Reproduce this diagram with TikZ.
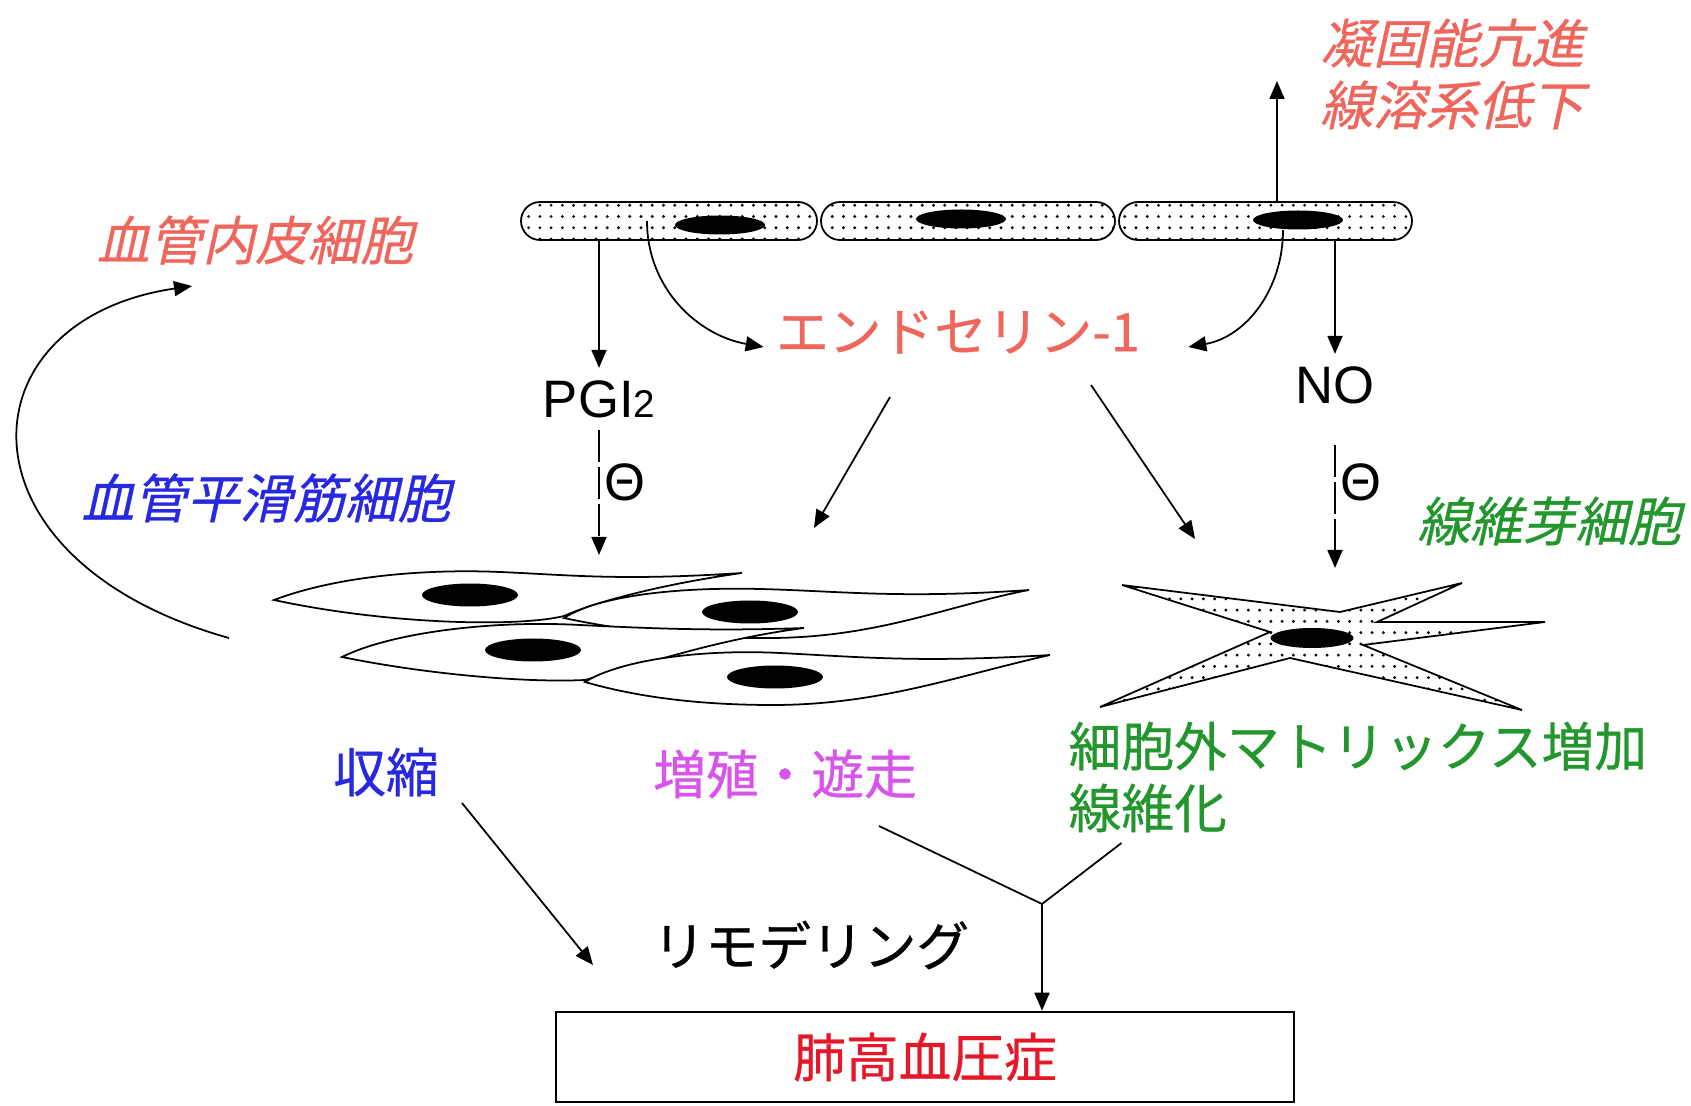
\documentclass[tikz,border=0pt]{standalone}
\usepackage{fontspec}
\setmainfont{Liberation Sans}
\newfontfamily\jp[FakeBold=0.6]{Noto Sans CJK JP}
\newfontfamily\jpsl[FakeSlant=0.22, FakeBold=0.6]{Noto Sans CJK JP}
\usetikzlibrary{arrows.meta, shapes.geometric, patterns.meta}
\definecolor{ecRed}{RGB}{238, 102, 92}
\definecolor{smcBlue}{RGB}{40, 40, 225}
\definecolor{fibGreen}{RGB}{35, 150, 45}
\definecolor{prolViolet}{RGB}{215, 85, 235}
\definecolor{phRed}{RGB}{228, 24, 40}

\begin{document}
\begin{tikzpicture}[every node/.style={font=\jp\fontsize{15}{17.6}\selectfont},
  arr/.style={-{Triangle[length=1.8mm, width=1.5mm]}, line width=0.5pt},
  inhib/.style={arr, dash pattern=on 9pt off 1.5pt},
  dotted cell/.style={draw, line width=0.5pt, pattern={Dots[distance=3.2pt, radius=0.45pt]}},
  endo/.style={dotted cell, rounded corners=1.9mm, minimum height=3.8mm, inner sep=0},
  nuc/.style={ellipse, fill=black, inner sep=0, minimum width=9mm, minimum height=1.9mm},
  smc/.style={draw, fill=white, line width=0.5pt},
  latin/.style={font=\fontsize{15}{17.6}\selectfont},
  sl/.style={font=\jpsl\fontsize{15}{17.6}\selectfont}]
  \useasboundingbox (0,0) rectangle (16.91,11.05);

  % endothelium
  \node[endo, minimum width=29.6mm] (ec1) at (6.69,8.84) {};
  \node[endo, minimum width=29.4mm] (ec2) at (9.68,8.84) {};
  \node[endo, minimum width=29.3mm] (ec3) at (12.655,8.84) {};
  \node[nuc] (n1) at (7.20,8.80) {};
  \node[nuc] (n2) at (9.61,8.86) {};
  \node[nuc] (n3) at (12.98,8.85) {};

  % smooth muscle cells
  \draw[smc] (2.74,5.05) .. controls (3.4,5.30) and (4.3,5.36) .. (5.0,5.33) .. controls (5.7,5.30) and (6.2,5.24) .. (7.42,5.32)
    .. controls (6.7,5.22) and (6.0,5.05) .. (5.64,4.89) .. controls (5.2,4.78) and (3.9,4.80) .. (2.74,5.05) -- cycle;
  \node[nuc, minimum width=9.6mm, minimum height=2.3mm] (smA) at (4.70,5.10) {};
  \draw[smc] (5.64,4.87) .. controls (6.0,5.1) and (6.8,5.18) .. (7.6,5.16) .. controls (8.4,5.14) and (9.0,5.06) .. (10.29,5.15)
    .. controls (9.5,5.0) and (8.8,4.68) .. (7.73,4.67) .. controls (6.9,4.66) and (6.2,4.75) .. (5.64,4.87) -- cycle;
  \node[nuc, minimum width=9.6mm, minimum height=2.3mm] (smB) at (7.50,4.93) {};
  \draw[smc] (3.42,4.48) .. controls (3.9,4.72) and (4.9,4.85) .. (5.8,4.80) .. controls (6.6,4.76) and (7.2,4.74) .. (8.04,4.77)
    .. controls (7.2,4.66) and (6.6,4.45) .. (5.85,4.25) .. controls (5.2,4.22) and (4.2,4.32) .. (3.42,4.48) -- cycle;
  \node[nuc, minimum width=9.6mm, minimum height=2.3mm] (smC) at (5.33,4.55) {};
  \draw[smc] (5.85,4.23) .. controls (6.2,4.45) and (7.0,4.56) .. (7.8,4.52) .. controls (8.6,4.48) and (9.2,4.42) .. (10.50,4.50)
    .. controls (9.6,4.30) and (8.8,4.00) .. (7.73,4.00) .. controls (6.9,4.00) and (6.3,4.10) .. (5.85,4.23) -- cycle;
  \node[nuc, minimum width=9.6mm, minimum height=2.3mm] (smD) at (7.75,4.28) {};

  % fibroblast
  \draw[dotted cell] (11.22,5.20) -- (13.40,4.93) -- (14.62,5.22) -- (13.77,4.83) -- (15.45,4.83) -- (13.63,4.60)
    -- (15.22,3.95) -- (12.90,4.47) -- (11.00,3.98) -- (12.70,4.73) -- cycle;
  \node[nuc, minimum width=8.3mm, minimum height=2mm] (fn) at (13.12,4.67) {};

  % labels
  \node[sl, text=ecRed, align=center] (coag) at (14.52,10.31) {凝固能亢進\\線溶系低下};
  \node[sl, text=ecRed] (eclbl) at (2.55,8.65) {血管内皮細胞};
  \node[sl, text=smcBlue] (smclbl) at (2.66,6.07) {血管平滑筋細胞};
  \node[sl, text=fibGreen] (fiblbl) at (15.49,5.84) {線維芽細胞};
  \node[text=ecRed] (et1) at (9.58,7.73) {エンドセリン-1};
  \node[latin] (pgi) at (5.99,7.06) {PGI{\fontsize{11}{11}\selectfont 2}};
  \node[latin] (no) at (13.35,7.20) {NO};
  \node[latin] (minusA) at (6.25,6.23) {Θ};
  \node[latin] (minusB) at (13.61,6.23) {Θ};
  \node[text=smcBlue] (shrink) at (3.86,3.33) {収縮};
  \node[text=prolViolet] (prolif) at (7.85,3.31) {増殖・遊走};
  \node[text=fibGreen, align=left, anchor=west, inner sep=0] (ecm) at (10.68,3.28) {細胞外マトリックス増加\\線維化};
  \node (remod) at (8.11,1.60) {リモデリング};
  \node[draw, line width=0.6pt, minimum width=73.75mm, minimum height=9.05mm, text=phRed] (ph) at (9.25,0.48) {肺高血圧症};

  % free ends
  \coordinate (coagTip) at (12.77,10.24);
  \coordinate (smcTop) at (5.99,5.50);
  \coordinate (fibTop) at (13.35,5.37);
  \coordinate (smcET) at (8.14,5.77);
  \coordinate (fibET) at (11.95,5.66);
  \coordinate (loopStart) at (2.29,4.67);
  \coordinate (loopEnd) at (1.92,8.19);
  \coordinate (remodIn) at (5.93,1.40);
  \coordinate (merge) at (10.42,2.01);

  % connectors
  \draw[arr] (coagTip |- ec3.north) -- (coagTip);
  \draw[arr] (ec1.south -| pgi.north) -- (pgi.north);
  \draw[inhib] (pgi.south) -- (smcTop);
  \draw[arr] (ec3.south -| no.north) -- (no.north);
  \draw[inhib] ([yshift=-2.9mm]no.south) -- (fibTop);
  \draw[arr] ([xshift=-2.2mm]ec1.center) to[out=-90, in=170] ([yshift=-1.5mm]et1.west);
  \draw[arr] ([xshift=-1.5mm]n3.south) to[out=-90, in=10] ([shift={(3.6mm,-1.5mm)}]et1.east);
  \draw[arr] ([shift={(-0.68,-0.65)}]et1.center) -- (smcET);
  \draw[arr] ([shift={(1.33,-0.53)}]et1.center) -- (fibET);
  \draw[arr] (loopStart) .. controls (-0.50,5.45) and (-0.40,7.85) .. (loopEnd);
  \draw[arr] ([shift={(0.76,-0.31)}]shrink.center) -- (remodIn);
  \draw[line width=0.5pt] ([shift={(0.94,-0.52)}]prolif.center) -- (merge);
  \draw[line width=0.5pt] ([shift={(0.535,-0.66)}]ecm.west) -- (merge);
  \draw[arr] (merge) -- (merge |- ph.north);
\end{tikzpicture}
\end{document}
